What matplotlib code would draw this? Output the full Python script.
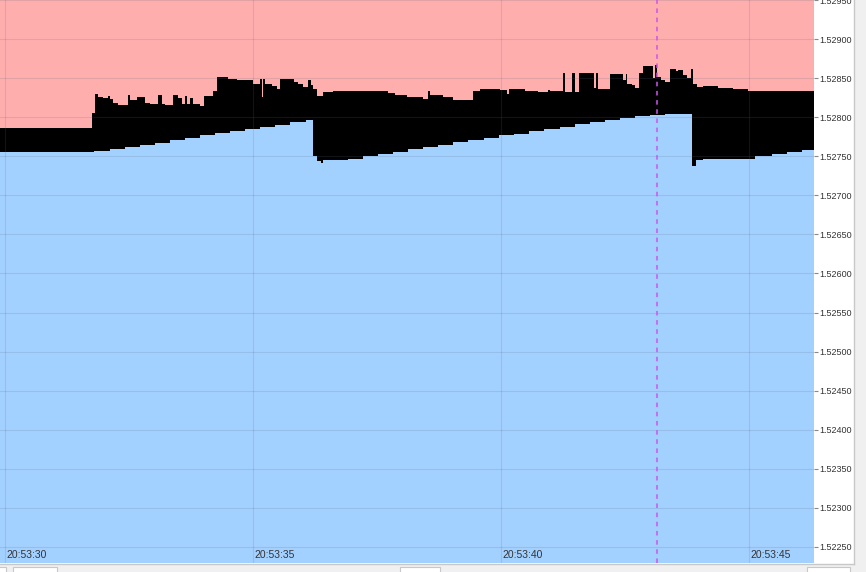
import matplotlib
matplotlib.use("Agg")
import matplotlib.pyplot as plt
from matplotlib.patches import Rectangle
from matplotlib.ticker import FuncFormatter, MultipleLocator

plt.rcParams['font.family'] = ['Liberation Sans', 'DejaVu Sans']

# seconds after 20:53:30
bid_t = [-0.10, 1.79, 2.12, 2.42, 2.72, 3.02, 3.33, 3.63, 3.93, 4.23, 4.54, 4.84, 5.14, 5.44, 5.75,
         6.07, 6.21, 6.29, 6.37, 6.41, 6.92, 7.22, 7.52, 7.82, 8.13, 8.43, 8.73, 9.03, 9.34, 9.66,
         9.96, 10.26, 10.57, 10.87, 11.19, 11.49, 11.79, 12.10, 12.40, 12.70, 13.00, 13.31, 13.85,
         13.93, 14.07, 15.12, 15.46, 15.77, 16.07]
bid_p = [1.52755, 1.52757, 1.52759, 1.52762, 1.52764, 1.52767, 1.52771, 1.52773, 1.52777, 1.52780,
         1.52782, 1.52785, 1.52788, 1.52790, 1.52794, 1.52797, 1.52750, 1.52744, 1.52741, 1.52745,
         1.52747, 1.52750, 1.52753, 1.52756, 1.52759, 1.52762, 1.52764, 1.52768, 1.52771, 1.52773,
         1.52777, 1.52779, 1.52782, 1.52785, 1.52788, 1.52791, 1.52794, 1.52797, 1.52799, 1.52802,
         1.52803, 1.52804, 1.52738, 1.52745, 1.52746, 1.52750, 1.52753, 1.52755, 1.52758]

ask_t = [-0.10, 1.75, 1.81, 1.88, 1.98, 2.08, 2.12, 2.18, 2.28, 2.48, 2.52, 2.66, 2.82, 2.92, 3.08,
         3.17, 3.23, 3.39, 3.49, 3.57, 3.63, 3.67, 3.73, 3.79, 3.93, 4.01, 4.19, 4.27, 4.50, 4.68,
         4.94, 5.00, 5.14, 5.18, 5.20, 5.24, 5.38, 5.48, 5.54, 5.83, 5.91, 6.01, 6.11, 6.17, 6.21,
         6.29, 6.41, 6.61, 7.72, 7.86, 8.10, 8.43, 8.53, 8.57, 8.83, 9.03, 9.44, 9.58, 9.98, 10.12,
         10.16, 10.48, 10.75, 10.95, 10.99, 11.25, 11.29, 11.43, 11.49, 11.57, 11.88, 11.92, 11.96,
         12.20, 12.46, 12.52, 12.54, 12.64, 12.70, 12.78, 12.86, 13.06, 13.10, 13.15, 13.23, 13.31,
         13.41, 13.53, 13.57, 13.67, 13.75, 13.83, 13.87, 13.95, 14.07, 14.38, 14.68, 14.98]
ask_p = [1.52786, 1.52805, 1.52830, 1.52826, 1.52825, 1.52827, 1.52823, 1.52818, 1.52816, 1.52828,
         1.52822, 1.52826, 1.52818, 1.52817, 1.52828, 1.52817, 1.52816, 1.52828, 1.52824, 1.52817,
         1.52827, 1.52817, 1.52825, 1.52817, 1.52814, 1.52827, 1.52833, 1.52851, 1.52849, 1.52848,
         1.52847, 1.52843, 1.52849, 1.52826, 1.52849, 1.52842, 1.52840, 1.52836, 1.52849, 1.52845,
         1.52842, 1.52839, 1.52847, 1.52841, 1.52836, 1.52827, 1.52832, 1.52834, 1.52831, 1.52829,
         1.52826, 1.52823, 1.52833, 1.52829, 1.52826, 1.52822, 1.52834, 1.52836, 1.52835, 1.52830,
         1.52836, 1.52833, 1.52832, 1.52835, 1.52833, 1.52857, 1.52832, 1.52857, 1.52832, 1.52857,
         1.52838, 1.52856, 1.52836, 1.52855, 1.52847, 1.52855, 1.52843, 1.52841, 1.52838, 1.52856,
         1.52865, 1.52850, 1.52867, 1.52851, 1.52848, 1.52845, 1.52862, 1.52859, 1.52861, 1.52854,
         1.52850, 1.52862, 1.52842, 1.52839, 1.52840, 1.52838, 1.52836, 1.52833]

x_ticks = [0, 5, 10, 15]
x_labels = ["20:53:30", "20:53:35", "20:53:40", "20:53:45"]
cursor_t = 13.15

x_min, x_max = -0.10, 16.31
y_min, y_max = 1.522295, 1.52950

W, H = 866, 572
fig = plt.figure(figsize=(W / 100, H / 100), dpi=100)
fig.patch.set_facecolor('white')

# UI frame: grey strips at right and bottom
fig.add_artist(Rectangle((854 / W, 0), (W - 854) / W, 1, transform=fig.transFigure,
                         facecolor='#f0f0f0', edgecolor='none', zorder=-1))
fig.add_artist(Rectangle((0, 0), 1, (H - 564) / H, transform=fig.transFigure,
                         facecolor='#f0f0f0', edgecolor='none', zorder=-1))
fig.add_artist(plt.Line2D([854 / W, 854 / W], [(H - 564) / H, 1], transform=fig.transFigure,
                          color='#c8c8c8', lw=1, zorder=-1))
fig.add_artist(plt.Line2D([0, 854 / W], [(H - 564) / H, (H - 564) / H], transform=fig.transFigure,
                          color='#c8c8c8', lw=1, zorder=-1))
for bx, bw in [(-2, 8), (13, 44), (400, 40), (807, 43)]:
    fig.add_artist(Rectangle((bx / W, -0.01), bw / W, (H - 567) / H + 0.01, transform=fig.transFigure,
                             facecolor='white', edgecolor='#c8c8c8', lw=0.8, zorder=-1))

ax = fig.add_axes([0, (H - 563) / H, 814 / W, 563 / H])
ax.set_facecolor('black')

bt = bid_t + [x_max]
bp = bid_p + [bid_p[-1]]
at = ask_t + [x_max]
ap = ask_p + [ask_p[-1]]

ax.fill_between(bt, bp, y_min, step='post', color='#a3d1ff', lw=0, zorder=1)
ax.fill_between(at, ap, y_max, step='post', color='#ffaeae', lw=0, zorder=1)

ax.set_xlim(x_min, x_max)
ax.set_ylim(y_min, y_max)

ax.yaxis.set_major_locator(MultipleLocator(0.0005))
ax.yaxis.set_major_formatter(FuncFormatter(lambda v, p: f"{v:.5f}"))
ax.yaxis.tick_right()
ax.tick_params(axis='y', length=3, width=0.8, color='#888888', labelsize=6.5,
               labelcolor='#333333', pad=1)
ax.set_xticks(x_ticks)
ax.tick_params(axis='x', length=0, labelbottom=False)
ax.grid(True, color='#5a6a80', alpha=0.18, lw=0.8, zorder=2)
ax.set_axisbelow(False)
for s in ax.spines.values():
    s.set_visible(False)

for xt, lab in zip(x_ticks, x_labels):
    ax.annotate(lab, xy=(xt, 0), xycoords=('data', 'axes fraction'), xytext=(1, 3),
                textcoords='offset pixels', ha='left', va='bottom', fontsize=7.5,
                color='#333333', zorder=5)

ax.axvline(cursor_t, color='#cc55ee', lw=1.1, ls=(0, (3, 3)), zorder=4)

fig.savefig('out.png', dpi=100)
